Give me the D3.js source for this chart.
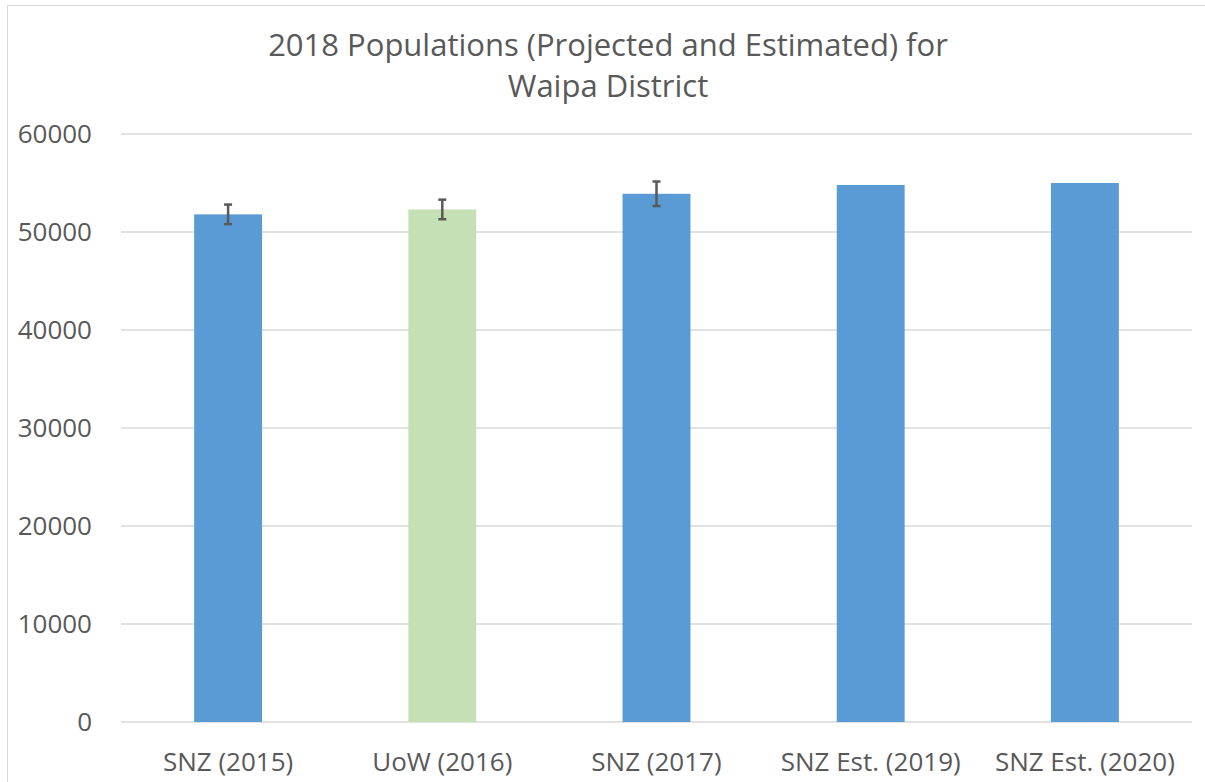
<!DOCTYPE html>
<html><head><meta charset="utf-8">
<script src="https://cdn.jsdelivr.net/npm/d3@7"></script>
<style>body{margin:0;background:#fff}svg{display:block}text{font-family:"Open Sans",sans-serif;fill:#595959}</style>
</head><body>
<svg id="c" width="1205" height="782"></svg>
<script>
const categories = ["SNZ (2015)", "UoW (2016)", "SNZ (2017)", "SNZ Est. (2019)", "SNZ Est. (2020)"];
const values = [51800, 52300, 53900, 54800, 55000];
const errLow = [1000, 1000, 1250, null, null];
const errHigh = [1000, 1000, 1250, null, null];
const barColors = ["#5b9bd5", "#c5e0b4", "#5b9bd5", "#5b9bd5", "#5b9bd5"];
const yTicks = [0, 10000, 20000, 30000, 40000, 50000, 60000];
const titleLines = ["2018 Populations (Projected and Estimated) for", "Waipa District"];

const svg = d3.select("#c");
svg.append("rect").attr("x", 7.5).attr("y", 5.5).attr("width", 1205).attr("height", 800)
  .attr("fill", "#fff").attr("stroke", "#d9d9d9");

const L = 121, R = 1192, T = 134, B = 722;
const x = d3.scaleBand().domain(categories).range([L, R]).paddingInner(0.683).paddingOuter(0.3415);
const y = d3.scaleLinear().domain([0, 60000]).range([B, T]);

svg.append("g").selectAll("line").data(yTicks).join("line")
  .attr("x1", L).attr("x2", R).attr("y1", d => y(d)).attr("y2", d => y(d))
  .attr("stroke", "#d9d9d9").attr("stroke-width", 1.3);

svg.append("g").selectAll("text").data(yTicks).join("text")
  .attr("x", 92).attr("y", d => y(d)).attr("dy", "0.35em").attr("text-anchor", "end")
  .attr("font-size", 26).text(d => d);

const data = categories.map((c, i) => ({c, v: values[i], lo: errLow[i], hi: errHigh[i], col: barColors[i]}));
svg.append("g").selectAll("rect").data(data).join("rect")
  .attr("x", d => x(d.c)).attr("width", x.bandwidth())
  .attr("y", d => y(d.v)).attr("height", d => y(0) - y(d.v)).attr("fill", d => d.col);

const eg = svg.append("g").attr("stroke", "#595959").attr("stroke-width", 2.5);
data.filter(d => d.lo != null).forEach(d => {
  const cx = x(d.c) + x.bandwidth() / 2;
  eg.append("line").attr("x1", cx).attr("x2", cx).attr("y1", y(d.v + d.hi)).attr("y2", y(d.v - d.lo));
  eg.append("line").attr("x1", cx - 4).attr("x2", cx + 4).attr("y1", y(d.v + d.hi)).attr("y2", y(d.v + d.hi));
  eg.append("line").attr("x1", cx - 4).attr("x2", cx + 4).attr("y1", y(d.v - d.lo)).attr("y2", y(d.v - d.lo));
});

svg.append("g").selectAll("text").data(categories).join("text")
  .attr("x", d => x(d) + x.bandwidth() / 2).attr("y", 762).attr("dy", "0.35em")
  .attr("text-anchor", "middle").attr("font-size", 26).text(d => d);

svg.append("g").selectAll("text").data(titleLines).join("text")
  .attr("x", 608).attr("y", (d, i) => 45 + i * 41).attr("dy", "0.35em")
  .attr("text-anchor", "middle").attr("font-size", 31).text(d => d);
</script>
</body></html>
